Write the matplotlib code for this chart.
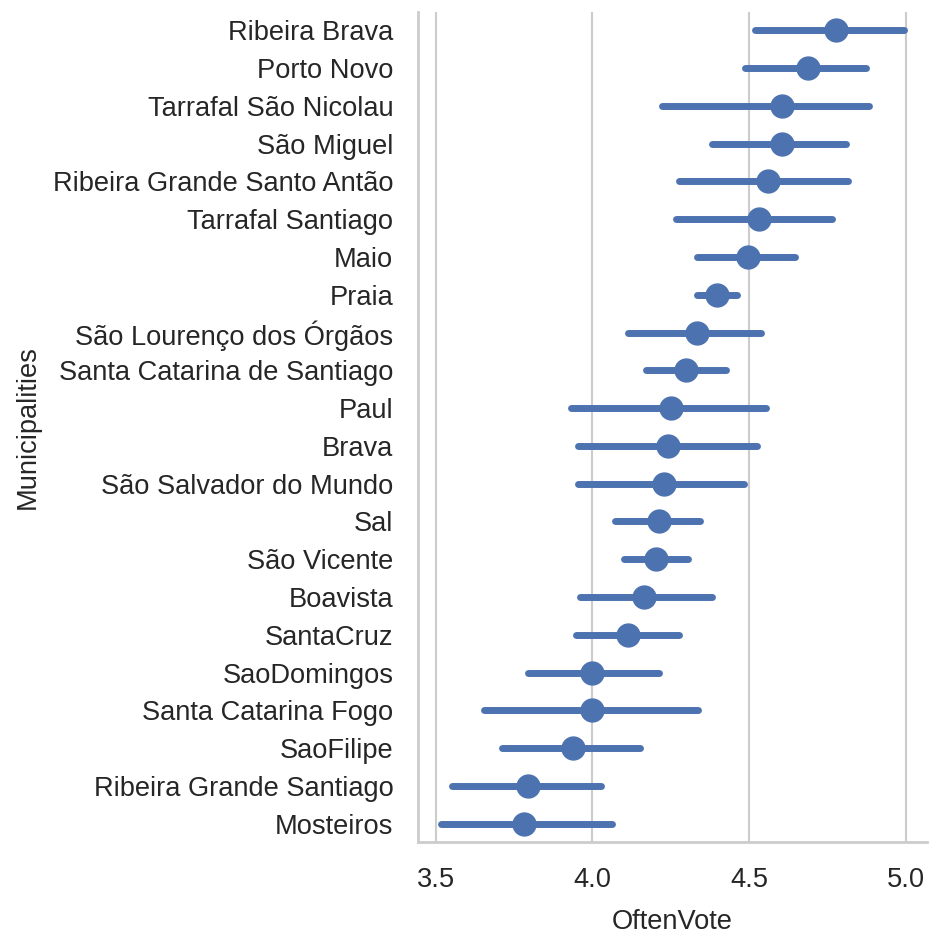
import matplotlib
matplotlib.use("Agg")
import matplotlib.pyplot as plt
import seaborn as sns

municipalities = [
    "Ribeira Brava", "Porto Novo", "Tarrafal São Nicolau", "São Miguel",
    "Ribeira Grande Santo Antão", "Tarrafal Santiago", "Maio", "Praia",
    "São Lourenço dos Órgãos", "Santa Catarina de Santiago", "Paul", "Brava",
    "São Salvador do Mundo", "Sal", "São Vicente", "Boavista", "SantaCruz",
    "SaoDomingos", "Santa Catarina Fogo", "SaoFilipe",
    "Ribeira Grande Santiago", "Mosteiros",
]
mean_vote = [4.776, 4.688, 4.606, 4.606, 4.559, 4.532, 4.497, 4.398, 4.333,
             4.300, 4.252, 4.240, 4.229, 4.214, 4.203, 4.164, 4.112, 4.0,
             4.0, 3.939, 3.794, 3.780]
ci_low = [4.519, 4.488, 4.221, 4.383, 4.276, 4.266, 4.333, 4.333, 4.115,
          4.172, 3.930, 3.954, 3.954, 4.071, 4.102, 3.961, 3.948, 3.793,
          3.655, 3.711, 3.551, 3.518]
ci_high = [4.994, 4.872, 4.884, 4.809, 4.815, 4.765, 4.647, 4.461, 4.537,
           4.425, 4.554, 4.524, 4.485, 4.343, 4.306, 4.381, 4.275, 4.213,
           4.338, 4.151, 4.027, 4.064]

sns.set_style("whitegrid")
plt.rcParams["font.family"] = ["Liberation Sans", "DejaVu Sans"]

color = sns.color_palette("deep")[0]

fig = plt.figure(figsize=(9.31, 9.36), dpi=100)
ax = fig.add_axes([0.4493, 0.0999, 0.5464, 0.8878])

# one horizontal CI line per municipality, mean as a dot on top
ypos = list(range(len(municipalities)))
for y, lo, hi in zip(ypos, ci_low, ci_high):
    ax.plot([lo, hi], [y, y], color=color, linewidth=5, solid_capstyle="round")
ax.plot(mean_vote, ypos, "o", color=color, markersize=16.5, linestyle="none")

ax.set_ylim(len(municipalities) - 0.5, -0.5)
ax.set_yticks(ypos)
ax.set_yticklabels(municipalities)
ax.set_xticks([3.5, 4.0, 4.5, 5.0])
ax.grid(axis="y", visible=False)
ax.grid(axis="x", color="#cccccc", linewidth=1.5)

fs = 19.6
ax.tick_params(axis="both", labelsize=fs, length=0, colors="#262626")
ax.tick_params(axis="y", pad=18)
ax.tick_params(axis="x", pad=18)
ax.set_xlabel("OftenVote", fontsize=fs, color="#262626", labelpad=11)
ax.set_ylabel("Municipalities", fontsize=fs, color="#262626", labelpad=9)

sns.despine(ax=ax)
for side in ["left", "bottom"]:
    ax.spines[side].set_color("#cccccc")
    ax.spines[side].set_linewidth(2)

fig.savefig("out.png", dpi=100)
